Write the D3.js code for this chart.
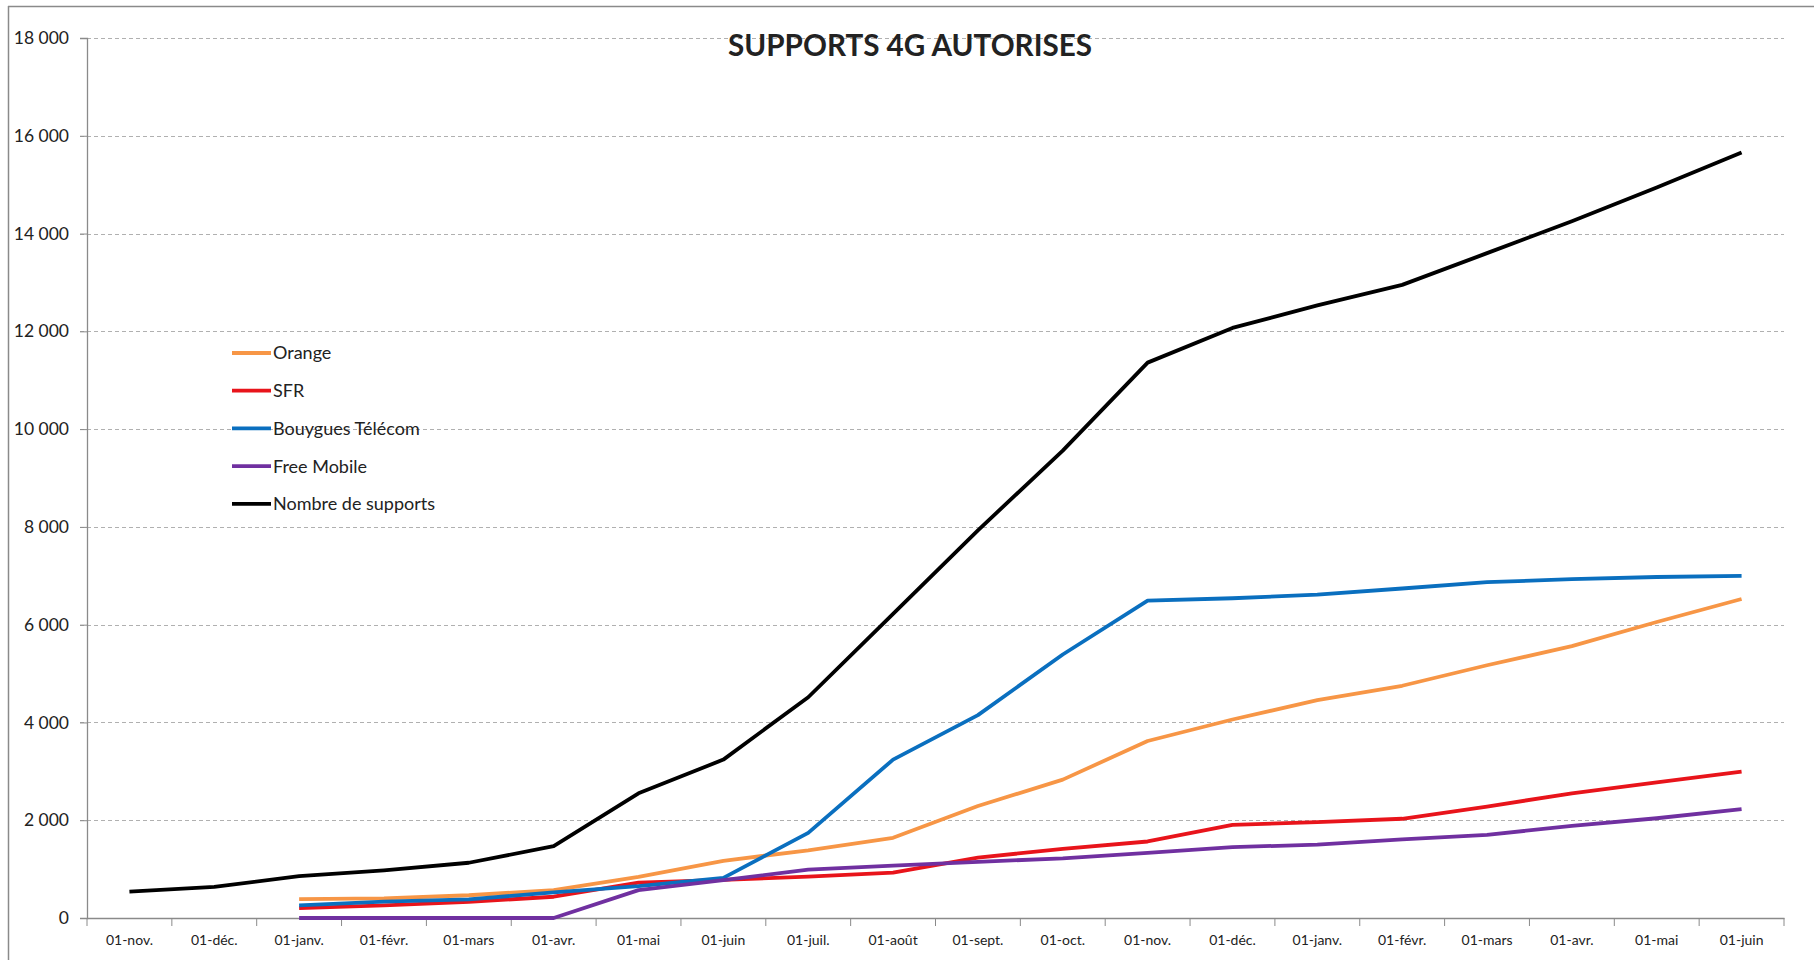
<!DOCTYPE html>
<html>
<head>
<meta charset="utf-8">
<script src="https://cdn.jsdelivr.net/npm/d3@7"></script>
<style>
  html, body { margin: 0; padding: 0; background: #fff; }
  svg { display: block; }
  text { font-family: Lato, "Noto Sans", sans-serif; fill: #222; }
</style>
</head>
<body>
<svg id="chart" width="1814" height="960"></svg>
<script>
const categories = ["01-nov.", "01-déc.", "01-janv.", "01-févr.", "01-mars", "01-avr.", "01-mai", "01-juin", "01-juil.", "01-août",
                    "01-sept.", "01-oct.", "01-nov.", "01-déc.", "01-janv.", "01-févr.", "01-mars", "01-avr.", "01-mai", "01-juin"];

const orange   = [null, null, 385, 400, 465, 570, 840, 1170, 1385, 1640, 2290, 2830, 3620, 4060, 4455, 4750, 5170, 5560, 6055, 6525];
const sfr      = [null, null, 200, 260, 330, 435, 725, 780, 845, 930, 1235, 1415, 1565, 1905, 1960, 2030, 2280, 2550, 2775, 2995];
const bouygues = [null, null, 260, 335, 380, 525, 650, 820, 1740, 3240, 4150, 5390, 6490, 6540, 6615, 6740, 6870, 6930, 6975, 7000];
const free     = [null, null, 0, 0, 0, 0, 570, 775, 990, 1070, 1150, 1220, 1330, 1450, 1500, 1610, 1700, 1885, 2040, 2225];
const total    = [540, 635, 855, 975, 1130, 1470, 2550, 3240, 4515, 6220, 7930, 9560, 11360, 12070, 12530, 12950, 13600, 14250, 14940, 15660];

const yTicks = [0, 2000, 4000, 6000, 8000, 10000, 12000, 14000, 16000, 18000];

const seriesNames  = ["Orange", "SFR", "Bouygues Télécom", "Free Mobile", "Nombre de supports"];
const seriesValues = [orange, sfr, bouygues, free, total];
const seriesColors = ["#F79646", "#E8141B", "#0A6FBF", "#7030A0", "#000000"];

const chartTitle = "SUPPORTS 4G AUTORISES";

const svg = d3.select("#chart");
const plotLeft = 87, plotRight = 1784, plotTop = 38, plotBottom = 918;

// frame (top + left edges visible)
svg.append("line").attr("x1", 8).attr("x2", 1814).attr("y1", 6.5).attr("y2", 6.5).attr("stroke", "#8a8a8a").attr("stroke-width", 1.5);
svg.append("line").attr("x1", 8.5).attr("x2", 8.5).attr("y1", 6).attr("y2", 960).attr("stroke", "#8a8a8a").attr("stroke-width", 1.5);

const x = d3.scaleBand().domain(d3.range(categories.length)).range([plotLeft, plotRight]).padding(0);
const cx = i => x(i) + x.bandwidth() / 2;
const y = d3.scaleLinear().domain([0, 18000]).range([plotBottom, plotTop]);

// gridlines
svg.append("g").selectAll("line").data(yTicks.filter(d => d > 0)).join("line")
  .attr("x1", plotLeft - 7).attr("x2", plotRight)
  .attr("y1", d => Math.round(y(d)) + 0.5).attr("y2", d => Math.round(y(d)) + 0.5)
  .attr("stroke", "#b0b0b0").attr("stroke-width", 1).attr("stroke-dasharray", "4,3");

// y axis
const fmt = d => d3.format(",")(d).replace(/,/g, " ");
const yAxis = svg.append("g").attr("transform", `translate(${plotLeft},0)`)
  .call(d3.axisLeft(y).tickValues(yTicks).tickFormat(fmt).tickSize(7).tickPadding(11));
yAxis.select(".domain").attr("stroke", "#8a8a8a").attr("stroke-width", 1.3);
yAxis.selectAll(".tick line").attr("stroke", "#8a8a8a");
yAxis.selectAll("text").attr("font-size", 17.5).attr("fill", "#222").style("font-family", "Lato, sans-serif");

// x axis
const xAxis = svg.append("g").attr("transform", `translate(0,${plotBottom})`)
  .call(d3.axisBottom(x).tickFormat(i => categories[i]).tickSize(0).tickSizeOuter(0).tickPadding(17));
xAxis.select(".domain").attr("stroke", "#8a8a8a").attr("stroke-width", 1.3);
xAxis.selectAll("text").attr("font-size", 14).attr("fill", "#222").style("font-family", "Lato, sans-serif");
const bounds = d3.range(categories.length).map(i => x(i)).concat([x.range()[1]]);
xAxis.selectAll("line.bound").data(bounds).join("line").attr("class", "bound")
  .attr("x1", d => d).attr("x2", d => d).attr("y1", 0).attr("y2", 8)
  .attr("stroke", "#8a8a8a").attr("stroke-width", 1);

// lines
const line = d3.line().defined(d => d != null).x((d, i) => cx(i)).y(d => y(d));
svg.append("g").selectAll("path").data(seriesValues).join("path")
  .attr("d", d => line(d))
  .attr("fill", "none")
  .attr("stroke", (d, i) => seriesColors[i])
  .attr("stroke-width", 3.8)
  .attr("stroke-linejoin", "round");

// title
svg.append("text").attr("x", 910).attr("y", 56).attr("text-anchor", "middle")
  .attr("font-size", 31).attr("font-weight", "bold").attr("fill", "#000")
  .attr("textLength", 364).attr("lengthAdjust", "spacingAndGlyphs")
  .text(chartTitle);

// legend
const lg = svg.append("g");
seriesNames.forEach((name, i) => {
  const ly = 353 + i * 37.7;
  lg.append("line").attr("x1", 232).attr("x2", 271).attr("y1", ly).attr("y2", ly)
    .attr("stroke", seriesColors[i]).attr("stroke-width", 3.8);
  lg.append("text").attr("x", 273).attr("y", ly).attr("dy", "0.36em")
    .attr("font-size", 18).attr("fill", "#222").text(name);
});
</script>
</body>
</html>
